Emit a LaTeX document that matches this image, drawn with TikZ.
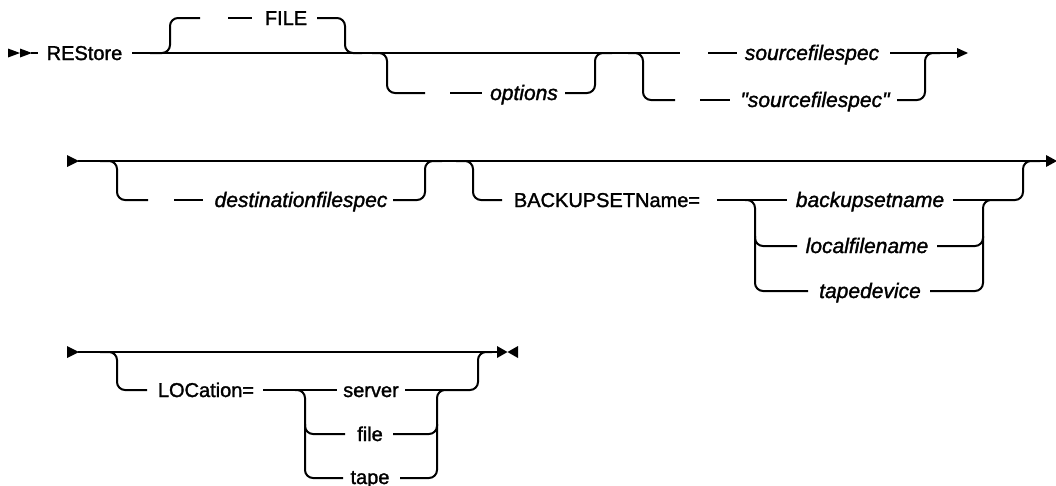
\documentclass[tikz,border=0pt]{standalone}
\usepackage{fontspec}
\setmainfont{Liberation Sans}[Ligatures=TeXOff, FakeBold=1.5]
\begin{document}
\begin{tikzpicture}[x=1pt,y=-1pt,
  rail/.style={line width=2pt, rounded corners=8pt},
  kw/.style={inner sep=0pt, anchor=base, font=\fontsize{20}{24}\selectfont},
  var/.style={inner sep=0pt, anchor=base, font=\fontsize{21}{24}\selectfont\itshape},
  tip/.style={fill=black, draw=none}]
\useasboundingbox (0,0) rectangle (1056,485);

% ---------------- Row 1 ----------------
\fill[tip] (8,48.5) -- (20,53) -- (8,57.5) -- cycle;
\fill[tip] (20,48.5) -- (32,53) -- (20,57.5) -- cycle;
\draw[rail] (31,53) -- (38,53);
\node[kw] (restore) at (84.5,60) {REStore};
\draw[rail] (132,53) -- (680,53);
% FILE
\draw[rail] (150,53) -- (170,53) -- (170,18) -- (200,18);
\draw[rail] (228,18) -- (252,18);
\node[kw] (file) at (286,25) {FILE};
\draw[rail] (317,18) -- (345,18) -- (345,53) -- (362,53);
% options
\draw[rail] (372,53) -- (387,53) -- (387,93) -- (425,93);
\draw[rail] (450,93) -- (482,93);
\node[var] (options) at (524,100) {options};
\draw[rail] (565,93) -- (595,93) -- (595,53) -- (612,53);
% sourcefilespec
\draw[rail] (628,53) -- (643,53) -- (643,100) -- (675,100);
\draw[rail] (700,100) -- (730,100);
\node[var] (src2) at (815,107) {"sourcefilespec"};
\draw[rail] (897,100) -- (925,100) -- (925,53) -- (940,53);
\draw[rail] (708,53) -- (737,53);
\node[var] (src1) at (812,60) {sourcefilespec};
\draw[rail] (890,53) -- (958,53);
\fill[tip] (957,48) -- (968,53) -- (957,58) -- cycle;

% ---------------- Row 2 ----------------
\fill[tip] (67,155) -- (79,161) -- (67,167) -- cycle;
\draw[rail] (78,161) -- (1047,161);
\fill[tip] (1046,155) -- (1057,161) -- (1046,167) -- cycle;
\draw[rail] (100,161) -- (117,161) -- (117,200) -- (148,200);
\draw[rail] (174,200) -- (203,200);
\node[var] (dest) at (301,207) {destinationfilespec};
\draw[rail] (393,200) -- (425,200) -- (425,161) -- (442,161);
\draw[rail] (456,161) -- (473,161) -- (473,200) -- (502,200);
\node[kw] (bsn) at (607,207) {BACKUPSETName=};
\draw[rail] (717,200) -- (787,200);
\draw[rail] (745,200) -- (755,200) -- (755,291) -- (808,291);
\draw[rail] (755,236) -- (755,246) -- (797,246);
\node[var] (bset) at (870,207) {backupsetname};
\node[var] (lfn) at (867,253) {localfilename};
\node[var] (tdev) at (870,298) {tapedevice};
\draw[rail] (953,200) -- (990,200);
\draw[rail] (937,246) -- (983,246) -- (983,236);
\draw[rail] (930,291) -- (983,291) -- (983,200) -- (1023,200) -- (1023,161) -- (1040,161);

% ---------------- Row 3 ----------------
\fill[tip] (67,346) -- (79,352) -- (67,358) -- cycle;
\draw[rail] (78,352) -- (498,352);
\fill[tip] (497,346) -- (507.5,352) -- (497,358) -- cycle;
\fill[tip] (518,346) -- (507.5,352) -- (518,358) -- cycle;
\draw[rail] (100,352) -- (117,352) -- (117,390) -- (147,390);
\node[kw] (loc) at (206,397) {LOCation=};
\draw[rail] (263,390) -- (337,390);
\draw[rail] (295,390) -- (305,390) -- (305,478) -- (343,478);
\draw[rail] (305,424) -- (305,434) -- (345,434);
\node[kw] (server) at (371,397) {server};
\node[kw] (filek) at (370,441) {file};
\node[kw] (tape) at (370,484) {tape};
\draw[rail] (405,390) -- (445,390);
\draw[rail] (393,434) -- (437,434) -- (437,424);
\draw[rail] (400,478) -- (437,478) -- (437,390) -- (478,390) -- (478,352) -- (492,352);
\end{tikzpicture}
\end{document}
